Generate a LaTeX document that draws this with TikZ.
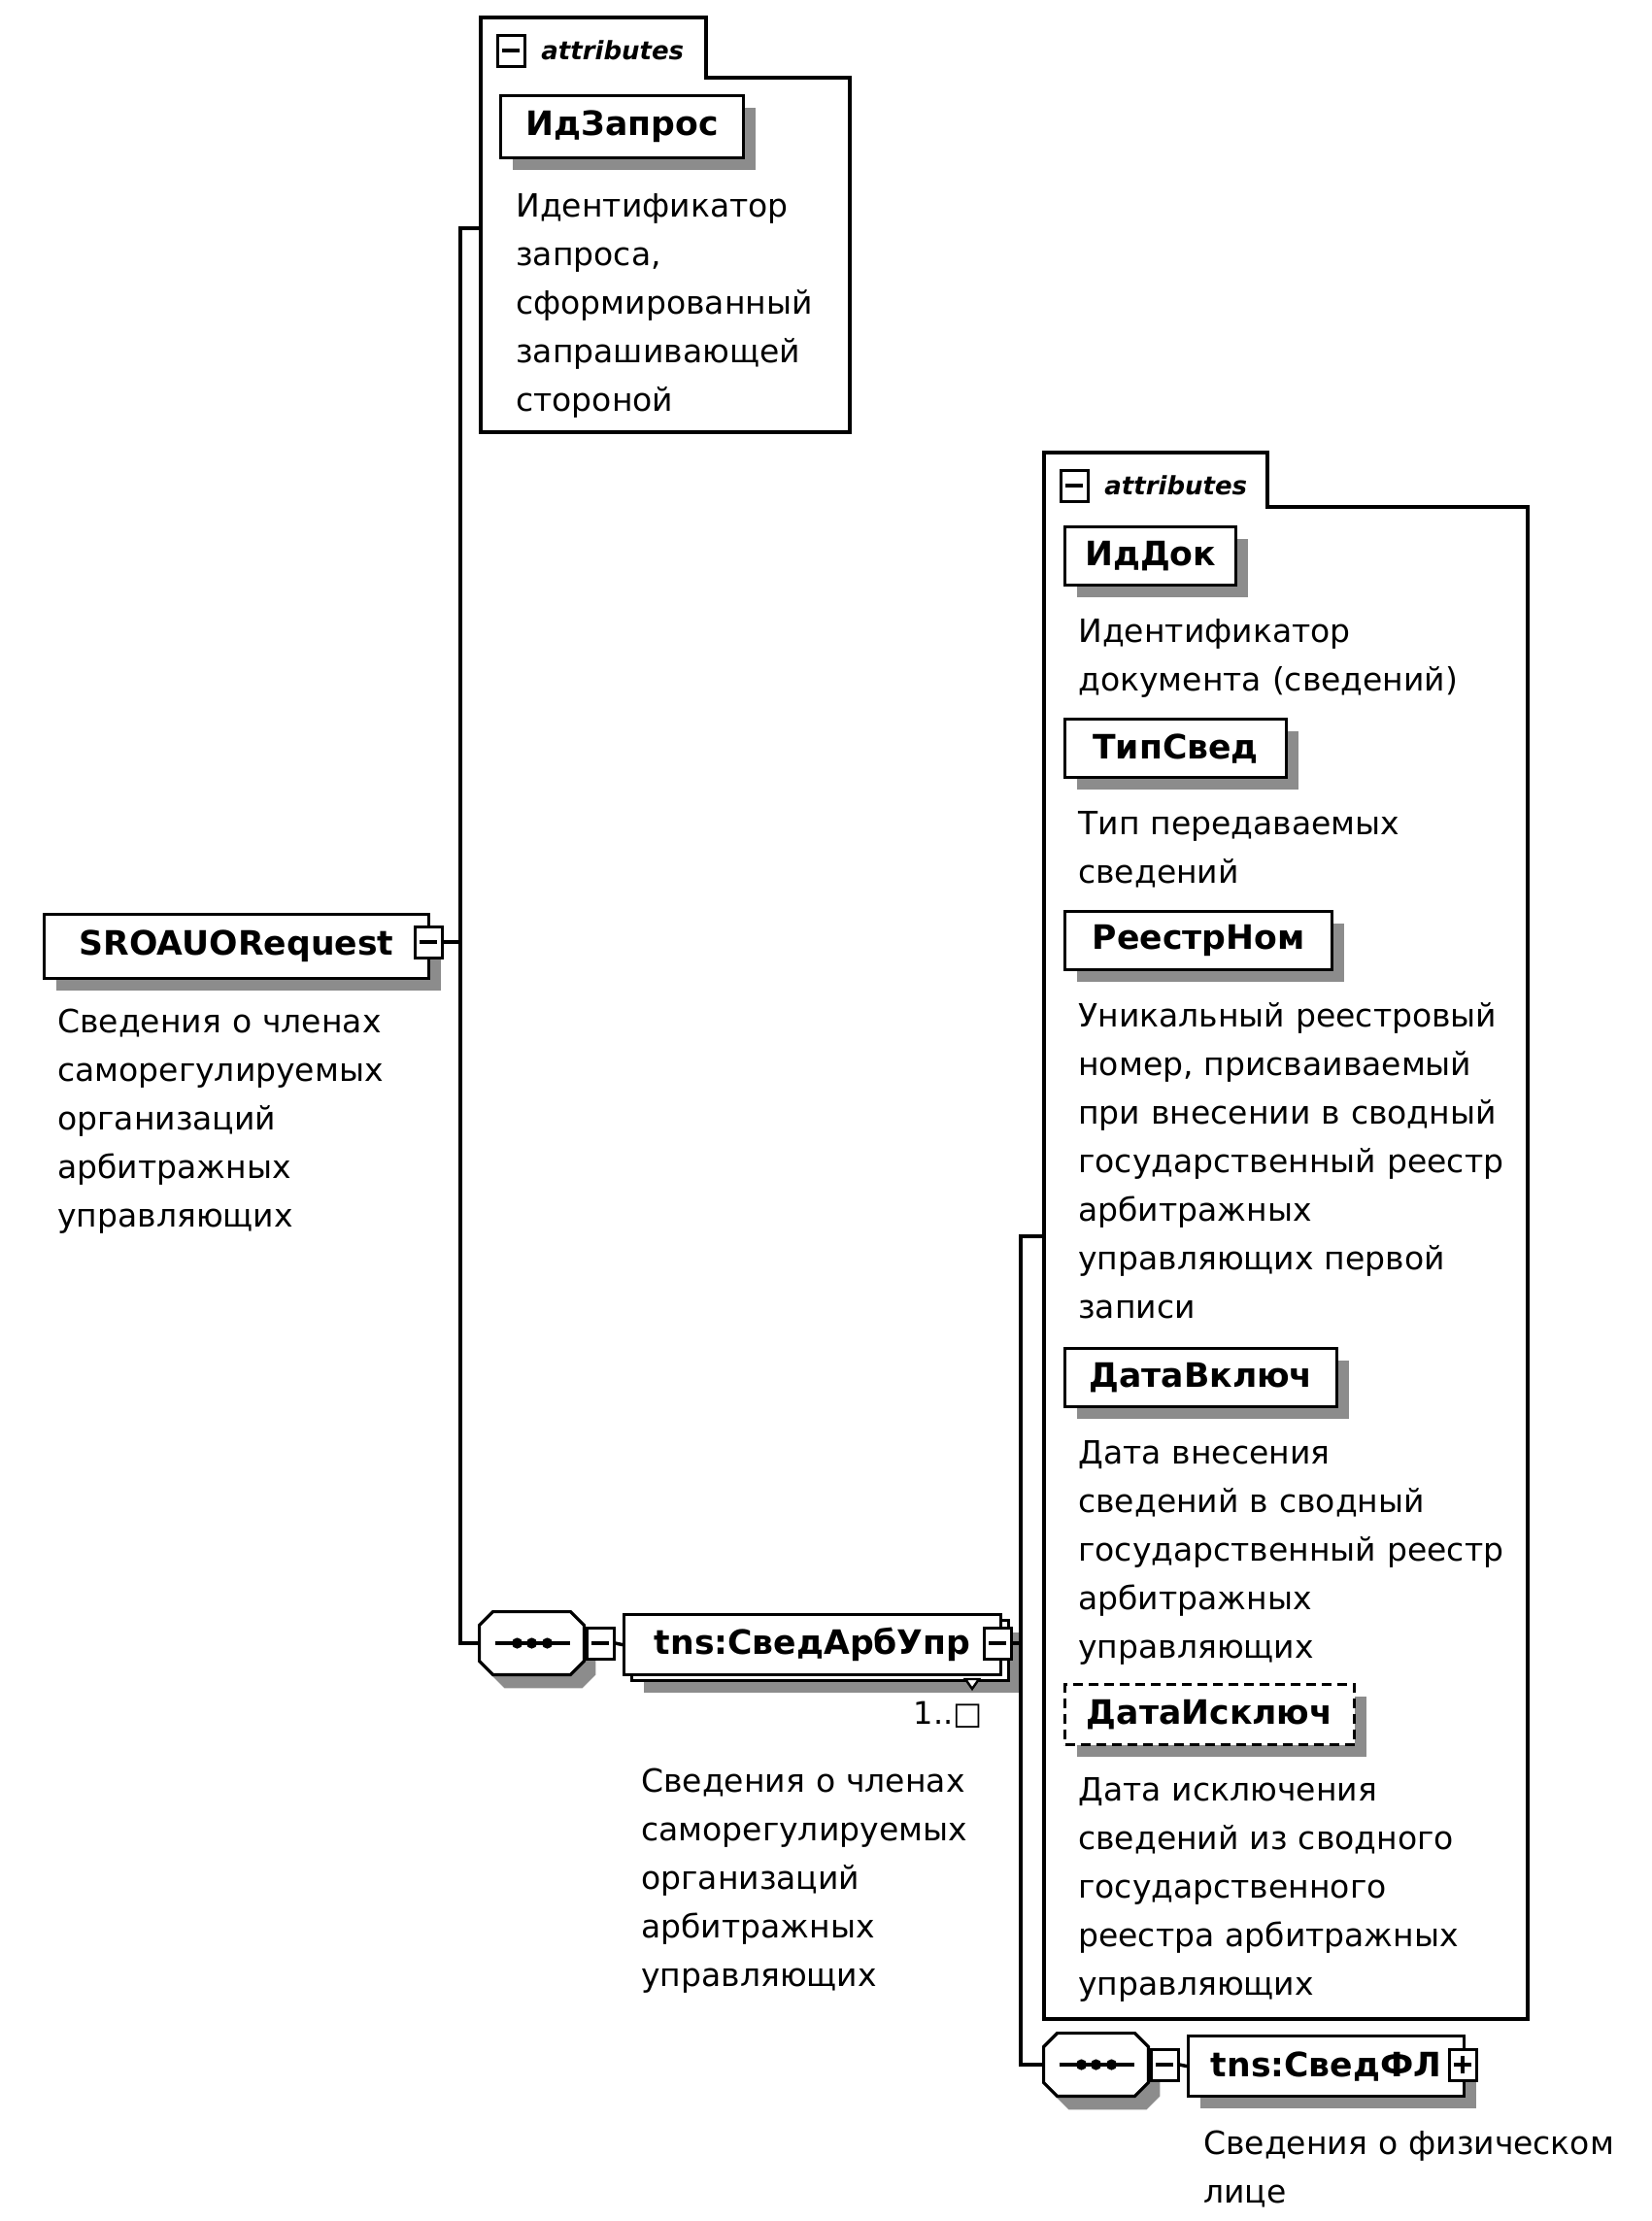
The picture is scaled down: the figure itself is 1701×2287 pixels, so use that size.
\documentclass[tikz,border=0pt]{standalone}
\usepackage{fontspec}
\setmainfont{DejaVu Sans}
\usetikzlibrary{shadows,calc}
\definecolor{shgray}{gray}{0.55}
\newcommand{\octoutline}[1]{($(#1.north west)+(14,0)$) -- ($(#1.north east)+(-14,0)$) -- ($(#1.north east)+(0,14)$) -- ($(#1.south east)+(0,-14)$) -- ($(#1.south east)+(-14,0)$) -- ($(#1.south west)+(14,0)$) -- ($(#1.south west)+(0,-14)$) -- ($(#1.north west)+(0,14)$) -- cycle}
\begin{document}
\begin{tikzpicture}[x=0.5pt,y=-0.5pt,
  conn/.style={line width=1.75pt},
  boxline/.style={line width=1.6pt},
  shad/.style={general shadow={fill=shgray, shadow xshift=6pt, shadow yshift=-6pt}},
  elbase/.style={draw, line width=1.6pt, fill=white, anchor=north west, inner sep=0pt,
    font=\fontsize{17.3}{20}\selectfont\bfseries},
  el/.style={elbase, shad},
  eldash/.style={elbase, shad, dash pattern=on 5pt off 3pt},
  desc/.style={anchor=base west, inner sep=0pt, text width=260pt, align=left,
    font=\fontsize{16.5}{25}\selectfont},
  atttext/.style={anchor=west, inner sep=0pt, font=\fontsize{13}{15}\selectfont\bfseries\itshape},
  iconbox/.style={draw, line width=1.5pt, fill=white, inner sep=0pt,
    minimum width=14pt, minimum height=16pt},
  minusicon/.style={iconbox, path picture={\draw[line width=1.6pt]
    ([xshift=-4.5pt]path picture bounding box.center) -- ([xshift=4.5pt]path picture bounding box.center);}},
  plusicon/.style={iconbox, path picture={\draw[line width=1.6pt]
    ([xshift=-4.5pt]path picture bounding box.center) -- ([xshift=4.5pt]path picture bounding box.center)
    ([yshift=-4.5pt]path picture bounding box.center) -- ([yshift=4.5pt]path picture bounding box.center);}},
  seqbox/.style={inner sep=0pt, minimum width=53.5pt, minimum height=32pt},
  octline/.style={line width=1.6pt, fill=white},
  octshadow/.style={fill=shgray, transform canvas={shift={(6pt,-7pt)}}},
  ]
\useasboundingbox (0,0) rectangle (1701,2287);
\fill[white] (0,0) rectangle (1701,2287);

% ---------- attributes box 1 ----------
\draw[boxline] (495,18) -- (727,18) -- (727,80) -- (875,80) -- (875,445) -- (495,445) -- cycle;
\node[inner sep=0pt, minimum width=190pt, minimum height=213.5pt, anchor=north west] (att1) at (495,18) {};
\node[minusicon] (att1I) at (526,52) {};
\node[atttext] (att1T) at (557,52) {attributes};
\node[el, minimum width=125pt, minimum height=32pt] (idz) at (514,97) {ИдЗапрос};
\node[desc] (idzD) at (531,223) {Идентификатор\\запроса,\\сформированный\\запрашивающей\\стороной};

% ---------- root ----------
\node[el, minimum width=198pt, minimum height=33pt] (sro) at (44,940) {SROAUORequest\hspace{8pt}};
\node[minusicon] (sroI) at (441,970) {};
\node[desc] (sroD) at (59,1063) {Сведения о членах\\саморегулируемых\\организаций\\арбитражных\\управляющих};

% spine 1
\coordinate (j1) at (474,235);
\coordinate (j2) at (474,1692);
\draw[conn] (sroI.east) -- (sroI.east -| j1);

% ---------- sequence 1 + СведАрбУпр ----------
\node[seqbox] (seq1) at (547.5,1692) {};
\fill[octshadow] \octoutline{seq1};
\draw[octline] \octoutline{seq1};
\draw[line width=1.6pt] ($(seq1.center)+(-38,0)$) -- ($(seq1.center)+(39,0)$);
\foreach \dx in {-15,0,16} \fill ($(seq1.center)+(\dx,0)$) circle (2.8pt);
\node[minusicon] (seq1I) at (618,1692) {};
\draw[conn] (j1 -| att1.west) -- (j1) -- (j2) -- (seq1.west);
\draw[conn] (seq1.east) -- (seq1I.west);

\node[el, minimum width=194pt, minimum height=31pt] (arbB) at (649,1667) {};
\node[elbase, minimum width=194pt, minimum height=31pt] (arb) at (641,1661) {tns:СведАрбУпр\hspace{8pt}};
\node[minusicon] (arbI) at (1027,1692) {};
\draw[conn] (seq1I.east) -- (arb.west);
\draw[line width=1.2pt, fill=white] (994,1729) -- (1008,1729) -- (1001,1739) -- cycle;
\node[anchor=east, inner sep=0pt, font=\fontsize{16}{18}\selectfont] (arbM) at (1012,1766) {1..□};
\node[desc] (arbD) at (660,1845) {Сведения о членах\\саморегулируемых\\организаций\\арбитражных\\управляющих};

% ---------- attributes box 2 ----------
\draw[boxline] (1075,466) -- (1305,466) -- (1305,522) -- (1573,522) -- (1573,2079) -- (1075,2079) -- cycle;
\node[inner sep=0pt, minimum width=249pt, minimum height=806.5pt, anchor=north west] (att2) at (1075,466) {};
\node[minusicon] (att2I) at (1106,500) {};
\node[atttext] (att2T) at (1137,500) {attributes};

\node[el, minimum width=88pt, minimum height=30pt] (idd) at (1095,541) {ИдДок};
\node[desc] (iddD) at (1110,661) {Идентификатор\\документа (сведений)};
\node[el, minimum width=114pt, minimum height=30pt] (tip) at (1095,739) {ТипСвед};
\node[desc] (tipD) at (1110,859) {Тип передаваемых\\сведений};
\node[el, minimum width=137.5pt, minimum height=30pt] (reestr) at (1095,937) {РеестрНом};
\node[desc] (reestrD) at (1110,1057) {Уникальный реестровый\\номер, присваиваемый\\при внесении в сводный\\государственный реестр\\арбитражных\\управляющих первой\\записи};
\node[el, minimum width=140pt, minimum height=30pt] (datav) at (1095,1387) {ДатаВключ};
\node[desc] (datavD) at (1110,1507) {Дата внесения\\сведений в сводный\\государственный реестр\\арбитражных\\управляющих};
\node[eldash, minimum width=149pt, minimum height=31pt] (datai) at (1095,1733) {ДатаИсключ};
\node[desc] (dataiD) at (1110,1854) {Дата исключения\\сведений из сводного\\государственного\\реестра арбитражных\\управляющих};

% spine 2
\coordinate (j3) at (1051,1273);
\coordinate (j4) at (1051,2126);
\draw[conn] (arbI.east) -- (arbI.east -| j3);

% ---------- sequence 2 + СведФЛ ----------
\node[seqbox] (seq2) at (1128.5,2126) {};
\fill[octshadow] \octoutline{seq2};
\draw[octline] \octoutline{seq2};
\draw[line width=1.6pt] ($(seq2.center)+(-38,0)$) -- ($(seq2.center)+(39,0)$);
\foreach \dx in {-15,0,16} \fill ($(seq2.center)+(\dx,0)$) circle (2.8pt);
\node[minusicon] (seq2I) at (1199,2126) {};
\draw[conn] (j3 -| att2.west) -- (j3) -- (j4) -- (seq2.west);
\draw[conn] (seq2.east) -- (seq2I.west);
\node[el, minimum width=142pt, minimum height=31pt] (fl) at (1222,2095) {tns:СведФЛ\hspace{10pt}};
\node[plusicon] (flI) at (1506,2126) {};
\draw[conn] (seq2I.east) -- (fl.west);
\node[desc] (flD) at (1239,2218) {Сведения о физическом\\лице};
\end{tikzpicture}
\end{document}
